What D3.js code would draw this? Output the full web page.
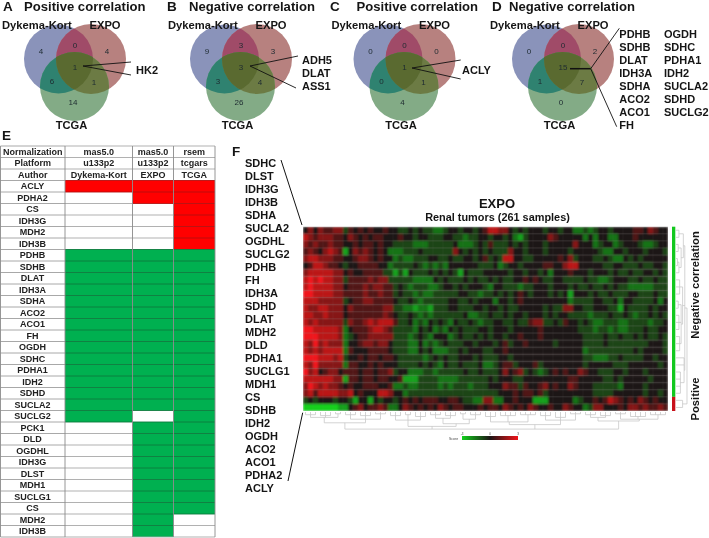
<!DOCTYPE html>
<html><head><meta charset="utf-8">
<script src="https://cdn.jsdelivr.net/npm/d3@7/dist/d3.min.js"></script>
<style>html,body{margin:0;padding:0;background:#fff}svg{display:block;filter:blur(.35px)}text{font-family:"Liberation Sans",Arial,sans-serif}</style>
</head><body><svg id="c" width="709" height="538"></svg>
<script>
// ---------- DATA ----------
const vennSets = ["Dykema-Kort","EXPO","TCGA"];
// order: D only, D∩E, E only, all, D∩T, E∩T, T only
const vennPanels = ["A","B","C","D"];
const vennTitles = ["Positive correlation","Negative correlation","Positive correlation","Negative correlation"];
const vennCounts = [[4,0,4,1,6,1,14],[9,3,3,3,3,4,26],[0,0,0,1,0,1,4],[0,0,2,15,1,7,0]];
const calloutsA = ["HK2"], calloutsB = ["ADH5","DLAT","ASS1"], calloutsC = ["ACLY"];
const calloutsD1 = ["PDHB","SDHB","DLAT","IDH3A","SDHA","ACO2","ACO1","FH"];
const calloutsD2 = ["OGDH","SDHC","PDHA1","IDH2","SUCLA2","SDHD","SUCLG2"];

const tableHeader = [["Normalization","mas5.0","mas5.0","rsem"],["Platform","u133p2","u133p2","tcgars"],["Author","Dykema-Kort","EXPO","TCGA"]];
const tableGenes = ["ACLY","PDHA2","CS","IDH3G","MDH2","IDH3B","PDHB","SDHB","DLAT","IDH3A","SDHA","ACO2","ACO1","FH","OGDH","SDHC","PDHA1","IDH2","SDHD","SUCLA2","SUCLG2","PCK1","DLD","OGDHL","IDH3G","DLST","MDH1","SUCLG1","CS","MDH2","IDH3B"];
// 1 positive (red), -1 negative (green), 0 none
const tableDK   = [1,0,0,0,0,0,-1,-1,-1,-1,-1,-1,-1,-1,-1,-1,-1,-1,-1,-1,-1,0,0,0,0,0,0,0,0,0,0];
const tableEXPO = [1,1,0,0,0,0,-1,-1,-1,-1,-1,-1,-1,-1,-1,-1,-1,-1,-1,-1,0,-1,-1,-1,-1,-1,-1,-1,-1,-1,-1];
const tableTCGA = [1,1,1,1,1,1,-1,-1,-1,-1,-1,-1,-1,-1,-1,-1,-1,-1,-1,-1,-1,-1,-1,-1,-1,-1,-1,-1,-1,0,0];

const heatGenes = ["SDHC","DLST","IDH3G","IDH3B","SDHA","SUCLA2","OGDHL","SUCLG2","PDHB","FH","IDH3A","SDHD","DLAT","MDH2","DLD","PDHA1","SUCLG1","MDH1","CS","SDHB","IDH2","OGDH","ACO2","ACO1","PDHA2","ACLY"];
// estimated level per sample block: 0 strong green, 4 neutral, 8 strong red
const heatRows = [
"4646556635 4545445443 3434332234 4344345776 6434344434 4344223234 4344445546 544",
"7656665546 5454554445 4434433344 3323344344 3421344446 5444442424 4224445444 444",
"6565565544 5455454433 3322233333 4222343533 3434344434 4444644423 4423444322 344",
"5654676514 6565454222 3334333333 6434343433 3644344434 4443444443 2244344434 443",
"6776665544 5665454423 2233344334 3344345343 7744334444 4546344433 4322434344 444",
"4577655434 4555544233 3343232324 4444433342 3443444455 4467744444 3344333433 443",
"6777776645 4455553313 1433343434 3143334444 4344344342 4445444344 4343343344 343",
"7878776635 5556566333 3322224343 3343433434 3344545433 4433334332 2344433433 433",
"7877776645 5565665534 3233322344 3434443244 3332334443 4443433433 4343322222 333",
"8877776655 5565565534 3323223333 3443323343 4345434443 4341444343 3433344333 433",
"7776666634 5566555543 3432333334 4334344424 4345444444 4442333344 3342443333 424",
"7667766646 5555556633 2212213334 4333443443 4334444434 3366443344 4331433334 344",
"7766766645 5555556543 3432323333 3342233433 4344344434 3443333233 3433432334 343",
"7676666636 5567677753 3423243432 4334323344 3343356633 4354434322 3332233332 334",
"8877777624 5556776533 3324342324 3433344344 4344444544 4444433323 3232233343 344",
"8887777623 4556666633 3234324442 3433434344 3445444544 4444443333 4334334343 343",
"7686766624 4566566433 3224232343 3344344434 5344544444 3444443333 4333333334 443",
"7676777725 4445555433 3224342223 3434443344 5444444444 4444442333 3333334344 443",
"8887776734 4545545543 3333234343 3444343334 4344444444 4444443322 2334333344 344",
"7686666625 5445454443 3334343243 3433342234 5534445344 4444443444 4433344444 434",
"8674566455 5455455634 4222332333 3343343334 6456343234 5454465443 3344344434 444",
"7777776615 5455455445 1113333222 2333333434 4433444444 4445544444 3343444443 444",
"6876766545 4455544522 3223333232 3332333444 6553544564 5446544433 3332444434 444",
"6757777667 4544477644 2333333333 3333333334 4454554534 4444444433 3344444434 434",
"3434443443 1441434434 5454555445 5433226622 4454441114 4444234454 5765454654 544",
"0000000114 5645565224 6545454654 5544454554 6545465445 4465442366 4445466565 565"
];
// dendrograms: [height, child, child...] with leaves as column / row index
const colTree=[19,
 [12,[6,[3,0,1,2],[4,3,4,5],[2,6,7]],[8,[3,8,9,10],[4,11,12,13],[2,14,15,16]]],
 [16,[9,[4,17,18,19],[3,20,21],[5,22,23,24]],[13,[7,[3,25,26,27],[4,28,29,30]],[8,[2,31,32],[3,33,34,35]]]],
 [14,[11,[5,36,37,38],[4,39,40,41,42],[3,43,44,45,46]],[9,[4,47,48,49],[6,50,51,52],[2,53,54,55]]],
 [10,[6,[3,56,57,58],[4,59,60,61]],[8,[2,62,63,64],[5,65,66,67,68],[3,69,70,71,72]]]
];
const rowTree=[15,
 [12,[10,[4,0,1],[7,[3,2,3],[4,[2,4,5],6]]],[9,[5,7,8,9],[7,[3,10,11],[4,12,13,14],[5,15,16,17]]],[11,18,19,[6,20,21,22,23]]],
 [9,24,25]
];
const rowGroups = [{label:"Negative",n:24},{label:"Positive",n:2}];
const scoreTicks = [-3,0,3];

// ---------- DRAW ----------
const svg = d3.select("#c");
function txt(g,x,y,s,size,opt={}){
  const t=g.append("text").attr("x",x).attr("y",y).attr("font-size",size).attr("font-weight",opt.w||"bold")
   .attr("fill",opt.fill||"#151515").attr("text-anchor",opt.a||"start").text(s);
  t.attr("dy","0.35em");
  return t;
}
function line(g,x1,y1,x2,y2,w,col){g.append("line").attr("x1",x1).attr("y1",y1).attr("x2",x2).attr("y2",y2).attr("stroke",col||"#111").attr("stroke-width",w);}

// Venn
const defs = svg.append("defs");
const vennX = d3.scaleOrdinal().domain(vennPanels).range([0,166,329.5,488]);
const circles = [{cx:58.5,cy:59,r:34.5,c:"#8a93ba"},{cx:91,cy:59,r:35,c:"#b7817f"},{cx:74.5,cy:86.5,r:34.5,c:"#83ab86"}];
const ovBR="#a04b68", ovBG="#2f8270", ovRG="#6c7b44", ovAll="#5a6a30";
const numPos = [[41,51],[75,45],[107,51],[75,67],[52,81],[94,82],[73,102]];
vennPanels.forEach((p,i)=>{
  const off=vennX(p), g=svg.append("g").attr("transform",`translate(${off},0)`);
  circles.forEach((c,j)=>{defs.append("clipPath").attr("id",`v${i}c${j}`).append("circle").attr("cx",c.cx).attr("cy",c.cy).attr("r",c.r);});
  circles.forEach(c=>g.append("circle").attr("cx",c.cx).attr("cy",c.cy).attr("r",c.r).attr("fill",c.c));
  g.append("g").attr("clip-path",`url(#v${i}c0)`).append("circle").attr("cx",circles[1].cx).attr("cy",circles[1].cy).attr("r",circles[1].r).attr("fill",ovBR);
  g.append("g").attr("clip-path",`url(#v${i}c0)`).append("circle").attr("cx",circles[2].cx).attr("cy",circles[2].cy).attr("r",circles[2].r).attr("fill",ovBG);
  g.append("g").attr("clip-path",`url(#v${i}c1)`).append("circle").attr("cx",circles[2].cx).attr("cy",circles[2].cy).attr("r",circles[2].r).attr("fill",ovRG);
  g.append("g").attr("clip-path",`url(#v${i}c0)`).append("g").attr("clip-path",`url(#v${i}c1)`).append("circle").attr("cx",circles[2].cx).attr("cy",circles[2].cy).attr("r",circles[2].r).attr("fill",ovAll);
  vennCounts[i].forEach((v,k)=>txt(g,numPos[k][0],numPos[k][1],v,8,{w:"normal",a:"middle",fill:"#1d2a30"}));
  txt(g,2,25,vennSets[0],11.2);
  txt(g,105,25,vennSets[1],11.2,{a:"middle"});
  txt(g,71.5,125,vennSets[2],11.2,{a:"middle"});
  txt(svg,[3,167,330,492][i],6.5,p,13.5);
  txt(svg,off+24+(i==1?-1:i==3?-3:i==2?3:0),6.5,vennTitles[i],13.1);
});
line(svg,83,66,131,62,.9); line(svg,83,66,131,75,.9);
txt(svg,136,70,calloutsA[0],11);
line(svg,250,66,298,56,.9); line(svg,250,66,296,88,.9);
calloutsB.forEach((s,i)=>txt(svg,302,60.5+i*13,s,11));
line(svg,412,68,460.7,60,.9); line(svg,412,68,460.7,79,.9);
txt(svg,462,70,calloutsC[0],11);
line(svg,570,68.7,590.7,68.7,1.5); line(svg,590.7,68.7,619.3,28.3,.9); line(svg,590.7,68.7,616.7,126.7,.9);
calloutsD1.forEach((s,i)=>txt(svg,619.3,34+i*13,s,11));
calloutsD2.forEach((s,i)=>txt(svg,664,34+i*13,s,11));

// Table
txt(svg,2,135.5,"E",13.5);
const colEdges=[0.5,65,132.5,173.5,215];
const rowY=d3.scaleLinear().domain([0,34]).range([146,537]);
const rowH=rowY(1)-rowY(0);
const fillOf=d3.scaleOrdinal().domain([1,-1,0]).range(["#ff0000","#00b050","#ffffff"]);
const tg=svg.append("g");
const cols=[tableDK,tableEXPO,tableTCGA];
tableGenes.forEach((g,r)=>{
  cols.forEach((c,j)=>{
    tg.append("rect").attr("x",colEdges[j+1]).attr("y",rowY(r+3)).attr("width",colEdges[j+2]-colEdges[j+1]).attr("height",rowH).attr("fill",fillOf(c[r]));
  });
});
d3.range(35).forEach(i=>{
  const y=rowY(i);
  tg.append("line").attr("x1",colEdges[0]).attr("x2",colEdges[1]).attr("y1",y).attr("y2",y).attr("stroke","#a8a8a8").attr("stroke-width",1);
  cols.forEach((c,j)=>{
    const a=i>=3&&i<34?c[i-3]:0, b=i>3&&i<=33?c[i-4]:0;
    const col=(a==-1||b==-1)?"#0b7a3c":(a==1||b==1)?"#b30f0f":"#a8a8a8";
    tg.append("line").attr("x1",colEdges[j+1]).attr("x2",colEdges[j+2]).attr("y1",y).attr("y2",y).attr("stroke",col).attr("stroke-width",.9);
  });
});
colEdges.forEach(x=>tg.append("line").attr("x1",x).attr("x2",x).attr("y1",rowY(0)).attr("y2",rowY(34)).attr("stroke","#8a8a8a").attr("stroke-width",.9));
tableHeader.forEach((row,r)=>row.forEach((s,j)=>txt(tg,(colEdges[j]+colEdges[j+1])/2,rowY(r)+rowH/2,s,9,{a:"middle",fill:"#222"})));
tableGenes.forEach((s,r)=>txt(tg,colEdges[1]/2,rowY(r+3)+rowH/2,s,9,{a:"middle",fill:"#222"}));

// Heatmap
txt(svg,232,151,"F",13.5);
defs.append("filter").attr("id","soft").attr("x","-2%").attr("y","-2%").attr("width","104%").attr("height","104%").append("feGaussianBlur").attr("stdDeviation",.9);
const heat=heatRows.map(r=>r.replace(/ /g,"").split("").map(d=>(+d-4)*0.75));
const hx=d3.scaleBand().domain(d3.range(heat[0].length)).range([303,668]);
const hy=d3.scaleBand().domain(d3.range(heat.length)).range([226.7,411]);
const hc=d3.scaleLinear().domain([-3,0,3]).range(["#12d01c","#1c1515","#f0141a"]);
defs.append("clipPath").attr("id","hc").append("rect").attr("x",303).attr("y",226.7).attr("width",365).attr("height",184.3);
const hroot=svg.append("g").attr("clip-path","url(#hc)");
const hg=hroot.append("g").attr("filter","url(#soft)");
heat.forEach((row,r)=>row.forEach((v,c)=>{
  hg.append("rect").attr("x",hx(c)).attr("y",hy(r)).attr("width",hx.bandwidth()+.2).attr("height",hy.bandwidth()+.2).attr("fill",hc(v));
}));
d3.range(heat.length+1).forEach(i=>{const y=226.7+i*hy.bandwidth();hroot.append("line").attr("x1",303).attr("x2",668).attr("y1",y).attr("y2",y).attr("stroke","#8e8a8a").attr("stroke-opacity",.38).attr("stroke-width",.7);});
d3.range(0,heat[0].length+1,2).forEach(i=>{const x=303+i*hx.bandwidth();hroot.append("line").attr("x1",x).attr("x2",x).attr("y1",226.7).attr("y2",411).attr("stroke","#8e8a8a").attr("stroke-opacity",.12).attr("stroke-width",.6);});
txt(svg,497,203,"EXPO",13,{a:"middle"});
txt(svg,497.5,217,"Renal tumors (261 samples)",10.9,{a:"middle"});
heatGenes.forEach((s,i)=>txt(svg,245,163.5+i*12.97,s,11));
line(svg,281,160,302,225,1); line(svg,302.7,412.7,288,481,1);

// Dendrograms
function tree(node,leaf,hs,draw){
  if(typeof node==="number") return {p:leaf(node),h:0};
  const kids=node.slice(1).map(n=>tree(n,leaf,hs,draw));
  const ps=kids.map(k=>k.p), h=node[0], p=(d3.min(ps)+d3.max(ps))/2;
  draw(d3.min(ps),d3.max(ps),h,kids);
  return {p,h};
}
const dg=svg.append("g").attr("stroke","#c2c2c2").attr("stroke-width",.7).attr("fill","none");
const cy=d3.scaleLinear().domain([0,20]).range([412,430]);
tree(colTree,c=>hx(c)+hx.bandwidth()/2,cy,(a,b,h,k)=>{
  dg.append("path").attr("d",d3.line()([[a,cy(h)],[b,cy(h)]]));
  k.forEach(q=>dg.append("path").attr("d",d3.line()([[q.p,cy(q.h)],[q.p,cy(h)]])));
});
const rx=d3.scaleLinear().domain([0,15]).range([676,687]);
tree(rowTree,r=>hy(r)+hy.bandwidth()/2,rx,(a,b,h,k)=>{
  dg.append("path").attr("d",d3.line()([[rx(h),a],[rx(h),b]]));
  k.forEach(q=>dg.append("path").attr("d",d3.line()([[rx(q.h),q.p],[rx(h),q.p]])));
});
// side bar
let acc=0;
rowGroups.forEach(gr=>{
  svg.append("rect").attr("x",672).attr("width",3.3).attr("y",hy(acc)).attr("height",hy.bandwidth()*gr.n).attr("fill",gr.label=="Negative"?"#12c81e":"#c8101a");
  acc+=gr.n;
});
const rot=(s,y,fs)=>svg.append("text").attr("transform",`translate(699,${y}) rotate(-90)`).attr("text-anchor","middle").attr("font-size",fs).attr("font-weight","bold").attr("fill","#151515").text(s);
rot("Negative correlation",285,11.2); rot("Positive",399,11.2);

// Colour bar
const lg=defs.append("linearGradient").attr("id","sc");
[-3,0,3].forEach(v=>lg.append("stop").attr("offset",`${(v+3)/6*100}%`).attr("stop-color",hc(v)));
const bx=d3.scaleLinear().domain([-3,3]).range([462,518]);
svg.append("rect").attr("x",bx(-3)).attr("y",436).attr("width",bx(3)-bx(-3)).attr("height",4).attr("fill","url(#sc)");
txt(svg,449,438.5,"Score",3.5,{w:"normal",fill:"#444"});
scoreTicks.forEach(t=>txt(svg,bx(t),434,t,3,{w:"normal",a:"middle",fill:"#444"}));
</script></body></html>
